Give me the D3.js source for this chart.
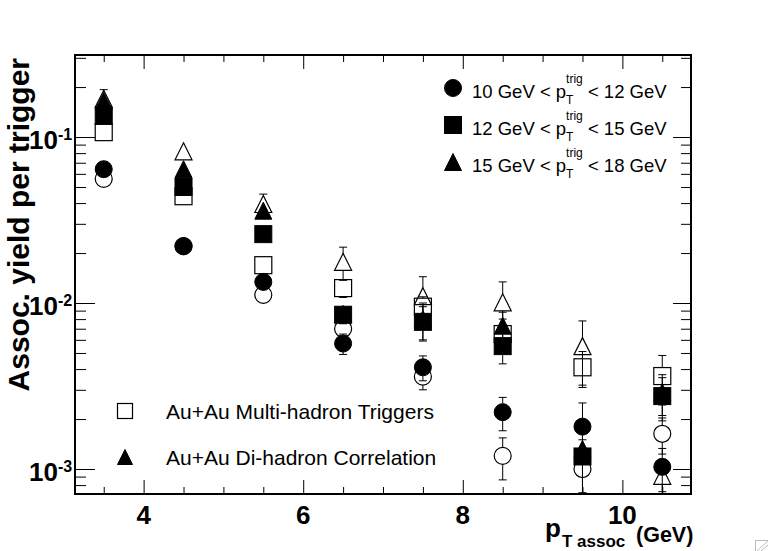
<!DOCTYPE html>
<html>
<head>
<meta charset="utf-8">
<script src="https://cdn.jsdelivr.net/npm/d3@7"></script>
<style>
  body { margin: 0; background: #fff; }
  svg { font-family: "Liberation Sans", Arial, Helvetica, sans-serif; }
  .axis path { display: none; }
  .axis line { stroke: #000; stroke-width: 1; }
</style>
</head>
<body>
<svg id="chart"></svg>
<script>
// associated pT bins (GeV)
var ptAssoc = [3.5, 4.5, 5.5, 6.5, 7.5, 8.5, 9.5, 10.5];

// Au+Au di-hadron correlation (filled markers)
var di10to12 = [0.064, 0.022, 0.0134, 0.0057, 0.0041, 0.0022, 0.0018, 0.00103];
var di10to12Err = [0.006, 0.002, 0.001, 0.0008, 0.0007, 0.0005, 0.0007, 0.0003];
var di12to15 = [0.134, 0.050, 0.026, 0.0085, 0.0077, 0.0055, 0.00119, 0.00275];
var di12to15Err = [0.01, 0.005, 0.0026, 0.001, 0.0018, 0.0012, 0.0005, 0.0008];
var di15to18 = [0.165, 0.064, 0.036, 0.0086, 0.0080, 0.0073, 0.00132, 0.0029];
var di15to18Err = [0.028, 0.006, 0.004, 0.001, 0.002, 0.0015, 0.0006, 0.0008];

// Au+Au multi-hadron triggers (open markers)
var mh10to12 = [0.056, 0.022, 0.0112, 0.0070, 0.0036, 0.0012, 0.0010, 0.00163];
var mh10to12Err = [0.004, 0.002, 0.001, 0.0008, 0.0006, 0.00034, 0.0005, 0.0004];
var mh12to15 = [0.107, 0.044, 0.0169, 0.0123, 0.0095, 0.0065, 0.0041, 0.00363];
var mh12to15Err = [0.008, 0.004, 0.002, 0.0015, 0.0014, 0.0015, 0.001, 0.0012];
var mh15to18 = [0.17, 0.082, 0.0395, 0.0177, 0.011, 0.0101, 0.0055, 0.00091];
var mh15to18Err = [0.02, 0.005, 0.0058, 0.004, 0.0034, 0.0033, 0.0023, 0.0002];

var xMajor = [4, 6, 8, 10];
var xMinor = [3.5, 4.5, 5, 5.5, 6.5, 7, 7.5, 8.5, 9, 9.5, 10.5];
var yMajor = [1e-3, 1e-2, 1e-1];
var yMinor = [8e-4, 9e-4, 2e-3, 3e-3, 4e-3, 5e-3, 6e-3, 7e-3, 8e-3, 9e-3,
  2e-2, 3e-2, 4e-2, 5e-2, 6e-2, 7e-2, 8e-2, 9e-2, 0.2, 0.3];
var yExp = ["-3", "-2", "-1"];

var trigLabels = [["10 GeV < p", " < 12 GeV"], ["12 GeV < p", " < 15 GeV"], ["15 GeV < p", " < 18 GeV"]];
var typeLabels = ["Au+Au Multi-hadron Triggers", "Au+Au Di-hadron Correlation"];

var w = 768, h = 551;
var margin = { top: 55, right: 77, bottom: 57, left: 75 };

var svg = d3.select("#chart").attr("width", w).attr("height", h);

var xScale = d3.scaleLinear().domain([3.14, 10.86]).range([margin.left, w - margin.right]);
var yScale = d3.scaleLog().domain([7.07e-4, 0.312]).range([h - margin.bottom, margin.top]);

var x0 = margin.left, x1 = w - margin.right, y0 = margin.top, y1 = h - margin.bottom;

// ticks, inward on all four sides
function tickAxis(axis, tx, ty) {
  svg.append("g").attr("class", "axis").attr("transform", "translate(" + tx + "," + ty + ")").call(axis);
}
tickAxis(d3.axisBottom(xScale).tickValues(xMajor).tickSize(-14).tickFormat(""), 0, y1);
tickAxis(d3.axisBottom(xScale).tickValues(xMinor).tickSize(-7).tickFormat(""), 0, y1);
tickAxis(d3.axisTop(xScale).tickValues(xMajor).tickSize(-14).tickFormat(""), 0, y0);
tickAxis(d3.axisTop(xScale).tickValues(xMinor).tickSize(-7).tickFormat(""), 0, y0);
tickAxis(d3.axisLeft(yScale).tickValues(yMajor).tickSize(-20).tickFormat(""), x0, 0);
tickAxis(d3.axisLeft(yScale).tickValues(yMinor).tickSize(-11).tickFormat(""), x0, 0);
tickAxis(d3.axisRight(yScale).tickValues(yMajor).tickSize(-18).tickFormat(""), x1, 0);
tickAxis(d3.axisRight(yScale).tickValues(yMinor).tickSize(-10).tickFormat(""), x1, 0);

// x tick labels
svg.selectAll(".xlab").data(xMajor).enter().append("text")
  .attr("x", function(d) { return xScale(d); })
  .attr("y", 524)
  .attr("text-anchor", "middle")
  .style("font-size", "26px").style("font-weight", "bold")
  .text(function(d) { return d; });

// y tick labels 10^n
yMajor.forEach(function(d, i) {
  var yy = yScale(d);
  svg.append("text").attr("x", 58).attr("y", yy + 12).attr("text-anchor", "end")
    .style("font-size", "26px").style("font-weight", "bold").text("10");
  svg.append("text").attr("x", 58).attr("y", yy + 3)
    .style("font-size", "16px").style("font-weight", "bold").text(yExp[i]);
});

// axis titles
svg.append("text")
  .attr("transform", "translate(29,58) rotate(-90)")
  .attr("text-anchor", "end")
  .style("font-size", "30px").style("font-weight", "bold")
  .text("Assoc. yield per trigger");

var xt = svg.append("text").attr("x", 545).attr("y", 537).style("font-weight", "bold");
xt.append("tspan").style("font-size", "26px").text("p");
xt.append("tspan").attr("x", 562).attr("y", 547).style("font-size", "17px").text("T assoc");
xt.append("tspan").attr("x", 636).attr("y", 542).style("font-size", "21.5px").text("(GeV)");

// markers
function drawMarker(g, shape, filled, cx, cy, s) {
  var fill = filled ? "#000" : "none";
  var m;
  if (shape === "circle") {
    m = g.append("circle").attr("cx", cx).attr("cy", cy).attr("r", s / 2);
  } else if (shape === "square") {
    m = g.append("rect").attr("x", cx - s / 2).attr("y", cy - s / 2).attr("width", s).attr("height", s);
  } else {
    m = g.append("path").attr("d", "M" + cx + "," + (cy - s / 2) + "L" + (cx + s / 2) + "," + (cy + s / 2) +
      "L" + (cx - s / 2) + "," + (cy + s / 2) + "Z");
  }
  m.attr("fill", fill).attr("stroke", "#000").attr("stroke-width", filled ? 1 : 1.2);
}

svg.append("clipPath").attr("id", "frame").append("rect")
  .attr("x", x0).attr("y", y0).attr("width", x1 - x0).attr("height", y1 - y0);
var plot = svg.append("g").attr("clip-path", "url(#frame)");

var series = [
  { y: mh10to12, e: mh10to12Err, shape: "circle", filled: false },
  { y: mh12to15, e: mh12to15Err, shape: "square", filled: false },
  { y: mh15to18, e: mh15to18Err, shape: "triangle", filled: false },
  { y: di10to12, e: di10to12Err, shape: "circle", filled: true },
  { y: di12to15, e: di12to15Err, shape: "square", filled: true },
  { y: di15to18, e: di15to18Err, shape: "triangle", filled: true }
];

var ms = 17;
series.forEach(function(s) {
  ptAssoc.forEach(function(pt, i) {
    var cx = xScale(pt), cy = yScale(s.y[i]);
    var lo = s.y[i] - s.e[i];
    var yHi = yScale(s.y[i] + s.e[i]);
    var yLo = lo > 0 ? yScale(lo) : y1 + 10;
    var g = plot.append("g");
    if (yHi < cy - ms / 2) {
      g.append("line").attr("x1", cx).attr("x2", cx).attr("y1", cy - ms / 2).attr("y2", yHi).attr("stroke", "#000");
      g.append("line").attr("x1", cx - 4).attr("x2", cx + 4).attr("y1", yHi).attr("y2", yHi).attr("stroke", "#000");
    }
    if (yLo > cy + ms / 2) {
      g.append("line").attr("x1", cx).attr("x2", cx).attr("y1", cy + ms / 2).attr("y2", yLo).attr("stroke", "#000");
      g.append("line").attr("x1", cx - 4).attr("x2", cx + 4).attr("y1", yLo).attr("y2", yLo).attr("stroke", "#000");
    }
    drawMarker(g, s.shape, s.filled, cx, cy, ms);
  });
});

// frame
svg.append("rect").attr("x", x0).attr("y", y0).attr("width", x1 - x0).attr("height", y1 - y0)
  .attr("fill", "none").attr("stroke", "#000").attr("stroke-width", 2);

// legend: trigger ranges
var shapes = ["circle", "square", "triangle"];
var legTop = svg.append("g");
trigLabels.forEach(function(t, i) {
  var ly = 88 + i * 37;
  drawMarker(legTop, shapes[i], true, 453, ly, 17);
  var tx = legTop.append("text").attr("x", 472).attr("y", ly + 10).style("font-size", "18.5px");
  tx.append("tspan").text(t[0]);
  var sub = tx.append("tspan").attr("dy", 6).style("font-size", "12px").text("T");
  var subW = sub.node().getComputedTextLength();
  tx.append("tspan").attr("dx", -subW).attr("dy", -21).style("font-size", "12px").text("trig");
  tx.append("tspan").attr("dy", 15).text(t[1]);
});

// legend: measurement type
var legBot = svg.append("g");
typeLabels.forEach(function(t, i) {
  var ly = 411 + i * 46;
  drawMarker(legBot, i === 0 ? "square" : "triangle", i === 1, 125, ly, 15);
  legBot.append("text").attr("x", 166).attr("y", ly + 8).style("font-size", "21px").text(t);
});

// resize grip corner
var grip = svg.append("g").attr("stroke", "#bbb").attr("fill", "none");
grip.append("rect").attr("x", 755.5).attr("y", 540.5).attr("width", 14).attr("height", 14);
grip.append("line").attr("x1", 757).attr("y1", 551).attr("x2", 768).attr("y2", 541);
grip.append("line").attr("x1", 761).attr("y1", 551).attr("x2", 768).attr("y2", 545);
</script>
</body>
</html>
